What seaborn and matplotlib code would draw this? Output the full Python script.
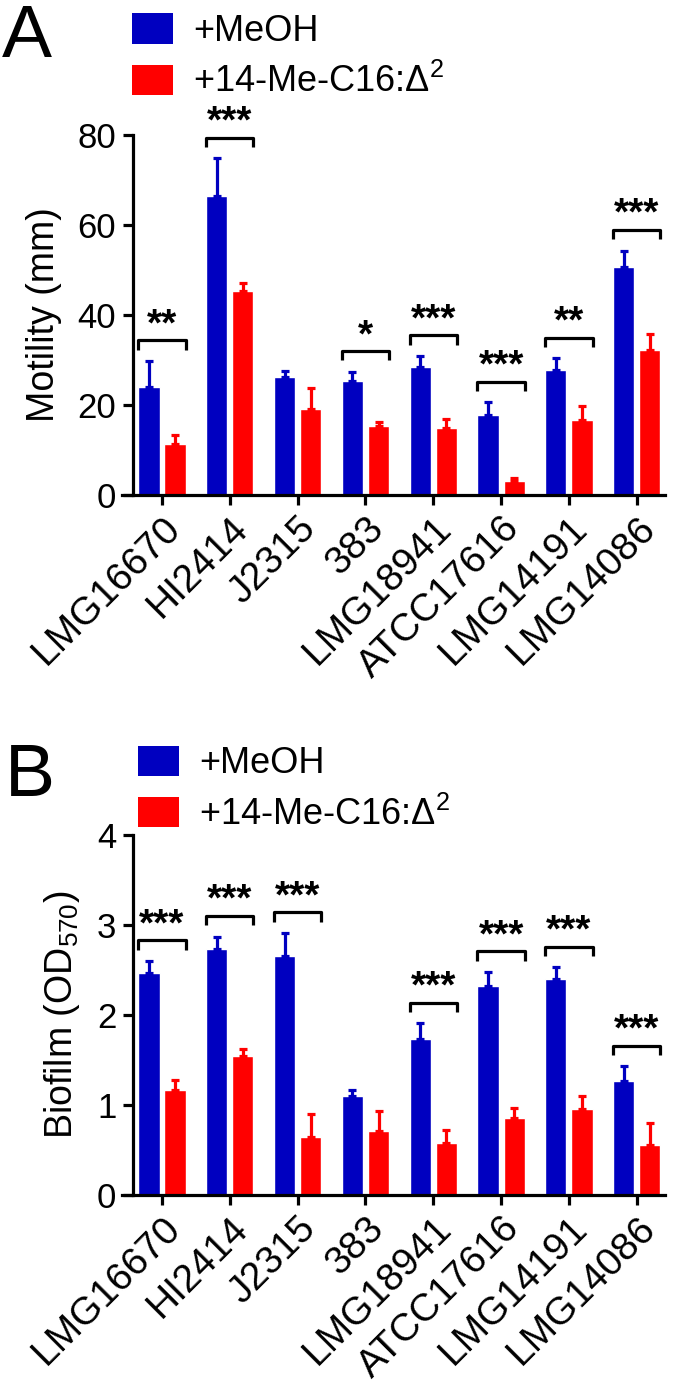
import matplotlib
matplotlib.use("Agg")
import matplotlib.pyplot as plt
from matplotlib.patches import Patch
import numpy as np
import pandas as pd
import seaborn as sns

strains = ["LMG16670", "HI2414", "J2315", "383", "LMG18941",
           "ATCC17616", "LMG14191", "LMG14086"]
treatments = ["+MeOH", "+14-Me-C16:\u0394$^{\\mathregular{2}}$"]
colors = ["#0000C0", "#FF0000"]

# Panel A: swarming motility (mm), mean and upper SEM
motility_meoh = [23.9, 66.4, 26.2, 25.4, 28.5, 17.7, 27.7, 50.6]
motility_meoh_err = [5.9, 8.4, 1.4, 2.0, 2.4, 2.9, 2.7, 3.7]
motility_dsf = [11.4, 45.3, 19.2, 15.4, 14.9, 3.2, 16.7, 32.3]
motility_dsf_err = [2.0, 1.9, 4.6, 0.9, 2.0, 0.5, 3.1, 3.4]
motility_stars = ["**", "***", "", "*", "***", "***", "**", "***"]

# Panel B: biofilm (OD570)
biofilm_meoh = [2.47, 2.73, 2.65, 1.10, 1.73, 2.32, 2.40, 1.27]
biofilm_meoh_err = [0.13, 0.14, 0.26, 0.07, 0.18, 0.16, 0.13, 0.16]
biofilm_dsf = [1.17, 1.54, 0.64, 0.71, 0.58, 0.86, 0.96, 0.55]
biofilm_dsf_err = [0.11, 0.08, 0.26, 0.22, 0.14, 0.11, 0.14, 0.25]
biofilm_stars = ["***", "***", "***", "", "***", "***", "***", "***"]

sns.set_style("ticks")
plt.rcParams["font.family"] = ["Liberation Sans", "DejaVu Sans"]
plt.rcParams["mathtext.fontset"] = "custom"
plt.rcParams["mathtext.rm"] = "Liberation Sans"
plt.rcParams["mathtext.it"] = "Liberation Sans:italic"
plt.rcParams["mathtext.bf"] = "Liberation Sans:bold"
for key in ("text.color", "axes.labelcolor", "xtick.color", "ytick.color",
            "axes.edgecolor"):
    plt.rcParams[key] = "black"

LW = 2.3


def draw_panel(ax, meoh, meoh_err, dsf, dsf_err, stars, ymax, ystep,
               ylabel, label_x):
    df = pd.DataFrame({
        "strain": strains * 2,
        "treatment": [treatments[0]] * len(strains) + [treatments[1]] * len(strains),
        "value": meoh + dsf,
    })
    sns.barplot(data=df, x="strain", y="value", hue="treatment",
                palette=colors, errorbar=None, width=0.77, gap=0.19,
                saturation=1, legend=False, ax=ax)
    tops = []
    for container, errs, color in zip(ax.containers, (meoh_err, dsf_err), colors):
        xs = [bar.get_x() + bar.get_width() / 2 for bar in container]
        hs = [bar.get_height() for bar in container]
        ax.errorbar(xs, hs, yerr=[np.zeros(len(errs)), errs], fmt="none",
                    ecolor=color, elinewidth=LW, capsize=3, capthick=LW)
        tops.append(np.array(hs) + np.array(errs))
    blue_bars, red_bars = ax.containers[0], ax.containers[1]
    offset = 0.057 * ymax
    drop = 0.026 * ymax
    for i, label in enumerate(stars):
        if not label:
            continue
        left = blue_bars[i].get_x()
        right = red_bars[i].get_x() + red_bars[i].get_width()
        y = max(tops[0][i], tops[1][i]) + offset
        ax.plot([left, left, right, right], [y - drop, y, y, y - drop],
                color="black", lw=LW, solid_capstyle="butt")
        ax.text((left + right) / 2, y - 0.008 * ymax, label, ha="center",
                va="bottom", fontsize=28, fontweight="bold")

    ax.set_ylim(0, ymax)
    ax.set_yticks(np.arange(0, ymax + ystep / 2, ystep))
    ax.set_xlim(-0.59, 7.42)
    ax.set_xlabel("")
    ax.set_ylabel(ylabel, fontsize=27)
    ax.yaxis.set_label_coords(label_x, 0.5)
    ax.tick_params(axis="both", width=LW, length=7, pad=5)
    ax.tick_params(axis="y", labelsize=25)
    ax.tick_params(axis="x", labelsize=28, pad=4)
    plt.setp(ax.get_xticklabels(), rotation=45, ha="right",
             rotation_mode="anchor")
    sns.despine(ax=ax)
    for side in ("left", "bottom"):
        ax.spines[side].set_linewidth(LW)
    ax.spines["left"].set_position(("axes", 0.0203))


fig = plt.figure(figsize=(6.74, 13.95), dpi=100)
ax_a = fig.add_axes([0.181, 0.6452, 0.806, 0.2581])
ax_b = fig.add_axes([0.181, 0.1434, 0.806, 0.2581])

draw_panel(ax_a, motility_meoh, motility_meoh_err, motility_dsf,
           motility_dsf_err, motility_stars, 80, 20, "Motility (mm)", -0.11)
draw_panel(ax_b, biofilm_meoh, biofilm_meoh_err, biofilm_dsf,
           biofilm_dsf_err, biofilm_stars, 4, 1,
           "Biofilm (OD$_{\\mathregular{570}}$)", -0.074)

handles = [Patch(facecolor=c, edgecolor="none") for c in colors]
for ax, (lx, ly) in ((ax_a, (0.196, 0.9905)), (ax_b, (0.205, 0.4655))):
    ax.legend(handles, treatments, loc="upper left", bbox_to_anchor=(lx, ly),
              bbox_transform=fig.transFigure, frameon=False, fontsize=26,
              handlelength=1.14, handleheight=0.92, handletextpad=0.55,
              labelspacing=0.42, borderaxespad=0, borderpad=0)

fig.text(0.003, 0.998, "A", fontsize=54, va="top", ha="left")
fig.text(0.007, 0.468, "B", fontsize=54, va="top", ha="left")

fig.savefig("out.png", dpi=100)
